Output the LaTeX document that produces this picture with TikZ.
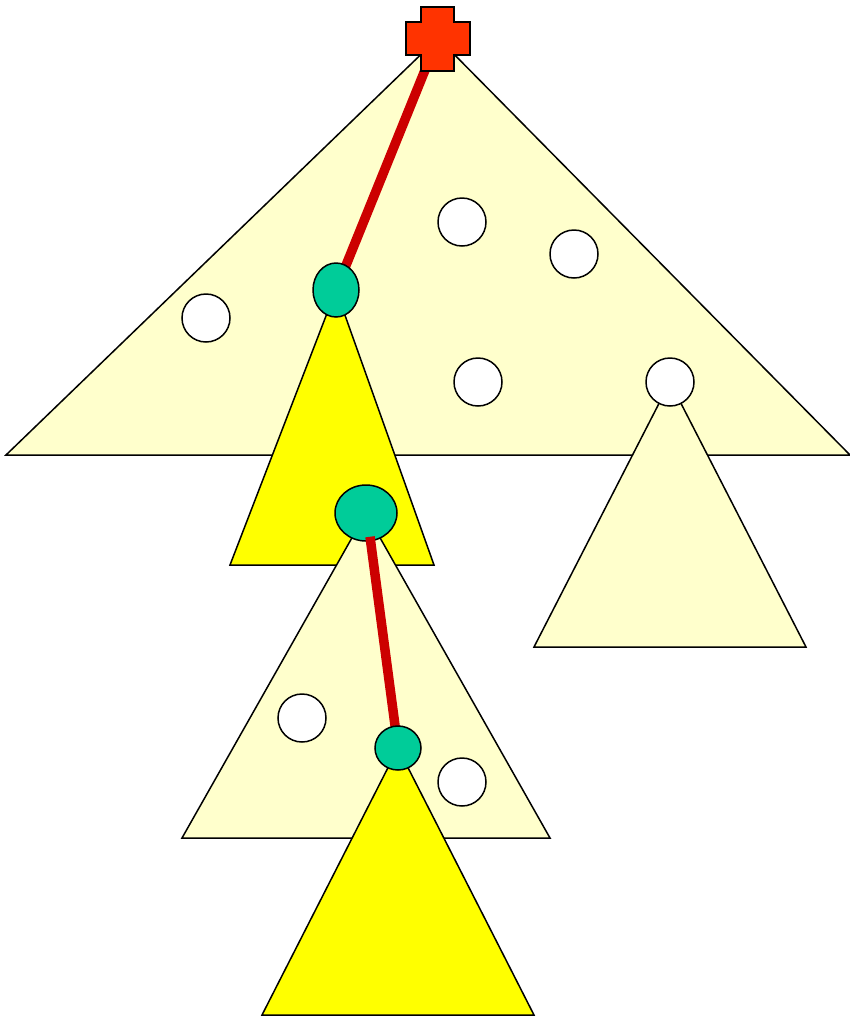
\documentclass[tikz,border=0pt]{standalone}
\usetikzlibrary{shapes.geometric}

\definecolor{paleyel}{HTML}{FFFFCC}
\definecolor{brightyel}{HTML}{FFFF00}
\definecolor{keygreen}{HTML}{00CC99}
\definecolor{trailred}{HTML}{CC0000}
\definecolor{plusred}{HTML}{FF3300}

\begin{document}
\begin{tikzpicture}[x=1pt, y=-1pt,
    tri/.style={draw, line width=1.5pt, line join=miter},
    hole/.style={circle, draw, fill=white, line width=1.5pt,
                 minimum size=48pt, inner sep=0pt},
    key/.style={ellipse, draw, fill=keygreen, line width=1.5pt, inner sep=0pt},
    trail/.style={draw=trailred, line width=9.5pt}
  ]
  \useasboundingbox (0,0) rectangle (850,1018);

  % apexes
  \coordinate (root) at (438,38);
  \coordinate (a1) at (336,290);
  \coordinate (a2) at (366,513);
  \coordinate (a3) at (398,748);
  \coordinate (ar) at (670,382);

  % big tree
  \filldraw[tri, fill=paleyel] (6,455) -- (root) -- (850,455) -- cycle;
  \node[hole] (h1) at (206,318) {};
  \node[hole] (h2) at (462,222) {};
  \node[hole] (h3) at (574,254) {};
  \node[hole] (h4) at (478,382) {};

  % right subtree
  \filldraw[tri, fill=paleyel] (534,647) -- (ar) -- (806,647) -- cycle;
  \node[hole] (h5) at (ar) {};

  % yellow subtree, middle tree, bottom subtree
  \filldraw[tri, fill=brightyel] (230,565) -- (a1) -- (434,565) -- cycle;
  \filldraw[tri, fill=paleyel] (182,838) -- (a2) -- (550,838) -- cycle;
  \filldraw[tri, fill=brightyel] (262,1015) -- (a3) -- (534,1015) -- cycle;
  \node[hole] (h6) at (302,718) {};
  \node[hole] (h7) at (462,782) {};

  % search path
  \draw[trail] (root) -- (a1);
  \node[key, minimum width=46pt, minimum height=54pt] (k1) at (a1) {};
  \node[key, minimum width=62pt, minimum height=56pt] (k2) at (a2) {};
  \draw[trail] ([xshift=4pt, yshift=5pt]k2.south) -- (a3);
  \node[key, minimum width=46pt, minimum height=44pt] (k3) at (a3) {};

  % root marker
  \filldraw[fill=plusred, line width=1.5pt]
    (421,7) -- (454,7) -- (454,22) -- (470,22) -- (470,55) -- (454,55)
    -- (454,71) -- (421,71) -- (421,55) -- (406,55) -- (406,22)
    -- (421,22) -- cycle;
\end{tikzpicture}
\end{document}
